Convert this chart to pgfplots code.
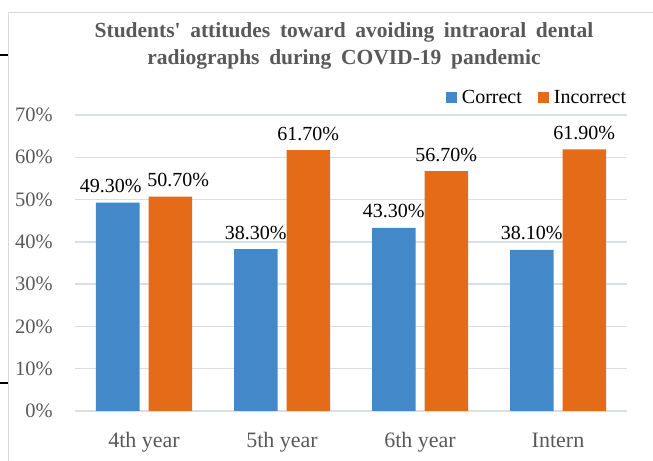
\documentclass[border=0pt]{standalone}
\usepackage{fontspec}
\setmainfont{Liberation Serif}
\usepackage{pgfplots}
\pgfplotsset{compat=1.18}
\usepackage{pgfplotstable}

\definecolor{barblue}{HTML}{4389CA}
\definecolor{barorange}{HTML}{E46C18}
\definecolor{gridc}{HTML}{DADFE6}
\definecolor{txtgray}{HTML}{595959}
\definecolor{framec}{HTML}{D9D9D9}

% x = category index, y = percent, dx = label nudge (bp)
\pgfplotstableread{
x y dx
0 49.3 -7
1 38.3 0
2 43.3 0
3 38.1 0
}\correct
\pgfplotstableread{
x y dx
0 50.7 8
1 61.7 0
2 56.7 0
3 61.9 0
}\incorrect

\begin{document}
\begin{tikzpicture}
\useasboundingbox (0,0) rectangle (653bp,461bp);
\draw[framec, line width=1bp] (8bp,0) -- (8bp,448bp) -- (653bp,448bp);
\draw[black, line width=1.5bp] (0,406bp) -- (8bp,406bp);
\draw[black, line width=1.5bp] (0,78bp) -- (8bp,78bp);

\node[anchor=base, text=txtgray, inner sep=0pt, font=\fontsize{21.5bp}{26bp}\selectfont\bfseries]
  at (344bp,423bp) {\spaceskip=0.45em Students\textquotesingle{} attitudes toward avoiding intraoral dental};
\node[anchor=base, text=txtgray, inner sep=0pt, font=\fontsize{21.5bp}{26bp}\selectfont\bfseries]
  at (344bp,396bp) {\spaceskip=0.45em radiographs during COVID-19 pandemic};

\begin{axis}[
  at={(75bp,50bp)}, anchor=south west, scale only axis,
  width=552bp, height=296bp,
  xmin=-0.5, xmax=3.5, ymin=0, ymax=70,
  ybar=9bp, bar width=43.5bp,
  axis line style={draw=none},
  major tick length=0pt,
  ymajorgrids, grid style={gridc, line width=1.3bp},
  xtick={0,1,2,3}, xticklabels={4th year,5th year,6th year,Intern},
  ytick={0,10,...,70},
  yticklabel={\pgfmathprintnumber{\tick}\%},
  /pgf/number format/assume math mode=true,
  tick label style={text=txtgray},
  yticklabel style={font=\fontsize{20.5bp}{24bp}\selectfont, inner sep=0pt, xshift=-22bp},
  xticklabel style={font=\fontsize{22bp}{26bp}\selectfont, anchor=base, inner sep=0pt, yshift=-36bp},
  visualization depends on={\thisrow{dx} \as \dx},
  nodes near coords={\pgfmathprintnumber[fixed,fixed zerofill,precision=2]{\pgfplotspointmeta}\%},
  nodes near coords style={font=\fontsize{20bp}{24bp}\selectfont, text=black, anchor=base, inner sep=0pt, yshift=10bp, xshift=\dx bp},
  legend style={at={(axis description cs:0.672,1.059)}, anchor=west, draw=none, fill=none,
    inner sep=0pt, outer sep=0pt, legend columns=2,
    font=\fontsize{20bp}{24bp}\selectfont, text=black, nodes={inner sep=0pt},
    /tikz/every odd column/.append style={column sep=5bp},
    /tikz/every even column/.append style={column sep=16bp}},
  legend image code/.code={\fill[#1] (0bp,-5.5bp) rectangle (11bp,5.5bp);},
]
\addplot[fill=barblue, draw=none] table[x=x, y=y] {\correct};
\addplot[fill=barorange, draw=none] table[x=x, y=y] {\incorrect};
\legend{Correct, Incorrect}
\end{axis}
\end{tikzpicture}
\end{document}
